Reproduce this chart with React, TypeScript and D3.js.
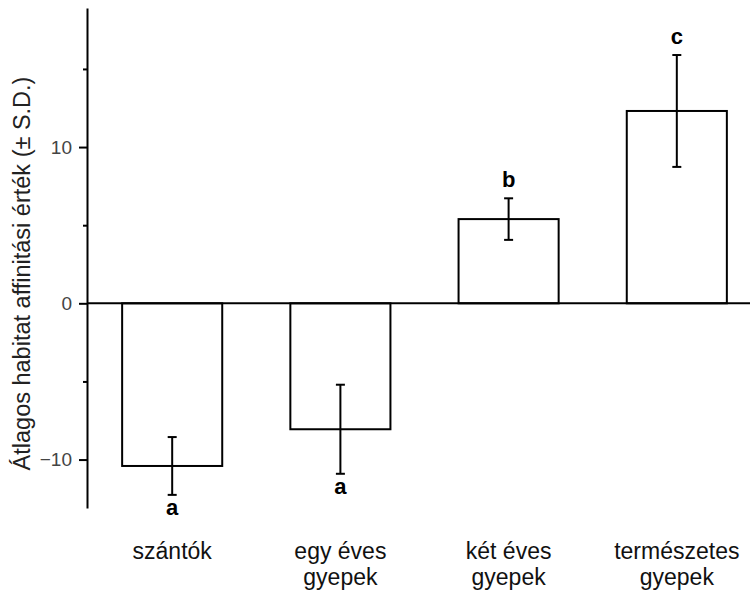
import React, { useRef, useEffect } from 'react';
import * as d3 from 'd3';

const CATEGORIES = ['szántók', 'egy éves gyepek', 'két éves gyepek', 'természetes gyepek'];
const CATEGORY_LINES = [['szántók'], ['egy éves', 'gyepek'], ['két éves', 'gyepek'], ['természetes', 'gyepek']];
const MEANS = [-10.41, -8.06, 5.39, 12.31];
const SDS = [1.85, 2.85, 1.33, 3.58];
const LETTERS = ['a', 'a', 'b', 'c'];
const MAJOR_TICKS = [-10, 0, 10];
const MINOR_TICKS = [-5, 5, 15];

const FONT = '"Liberation Sans", Arial, sans-serif';

export default function App() {
  const svgRef = useRef<SVGSVGElement | null>(null);

  useEffect(() => {
    if (!svgRef.current) return;
    const width = 754;
    const height = 591;

    d3.select(svgRef.current).selectAll('*').remove();
    const svg = d3.select(svgRef.current).attr('width', width).attr('height', height);

    const y = d3.scaleLinear().domain([-13.1, 18.9]).range([508, 8]);
    const x = d3
      .scaleBand()
      .domain(CATEGORIES)
      .range([88.5, 760.5])
      .paddingInner(0.405)
      .paddingOuter(0.2);

    const axisX = 87;

    const data = CATEGORIES.map((c, i) => ({ c, i, mean: MEANS[i], sd: SDS[i], letter: LETTERS[i] }));

    // Bars
    svg
      .append('g')
      .selectAll('rect')
      .data(data)
      .join('rect')
      .attr('x', (d) => x(d.c)!)
      .attr('y', (d) => y(Math.max(0, d.mean)))
      .attr('width', x.bandwidth())
      .attr('height', (d) => Math.abs(y(d.mean) - y(0)))
      .attr('fill', '#fff')
      .attr('stroke', '#000')
      .attr('stroke-width', 2);

    // Zero line
    svg
      .append('line')
      .attr('x1', axisX)
      .attr('x2', 750)
      .attr('y1', y(0))
      .attr('y2', y(0))
      .attr('stroke', '#000')
      .attr('stroke-width', 2);

    // Error bars
    const eb = svg.append('g').attr('stroke', '#000').attr('stroke-width', 2);
    data.forEach((d) => {
      const cx = x(d.c)! + x.bandwidth() / 2;
      const top = y(d.mean + d.sd);
      const bot = y(d.mean - d.sd);
      eb.append('line').attr('x1', cx).attr('x2', cx).attr('y1', top).attr('y2', bot);
      eb.append('line').attr('x1', cx - 4.5).attr('x2', cx + 4.5).attr('y1', top).attr('y2', top);
      eb.append('line').attr('x1', cx - 4.5).attr('x2', cx + 4.5).attr('y1', bot).attr('y2', bot);
    });

    // Significance letters
    svg
      .append('g')
      .selectAll('text')
      .data(data)
      .join('text')
      .attr('x', (d) => x(d.c)! + x.bandwidth() / 2)
      .attr('y', (d) => (d.mean < 0 ? y(d.mean - d.sd) + 20 : y(d.mean + d.sd) - 11))
      .attr('text-anchor', 'middle')
      .attr('font-family', FONT)
      .attr('font-size', 22)
      .attr('font-weight', 'bold')
      .attr('fill', '#000')
      .text((d) => d.letter);

    // Y axis
    const yAxis = svg
      .append('g')
      .attr('transform', `translate(${axisX},0)`)
      .call(d3.axisLeft(y).tickValues(MAJOR_TICKS).tickSize(8).tickSizeOuter(0).tickPadding(7).tickFormat(d3.format('d')));
    yAxis.select('.domain').attr('stroke', '#000').attr('stroke-width', 2);
    yAxis.selectAll('.tick line').attr('stroke', '#000').attr('stroke-width', 2);
    yAxis
      .selectAll('.tick text')
      .attr('font-family', FONT)
      .attr('font-size', 19)
      .attr('fill', '#444');

    svg
      .append('g')
      .attr('transform', `translate(${axisX},0)`)
      .call(d3.axisLeft(y).tickValues(MINOR_TICKS).tickSize(4).tickSizeOuter(0).tickFormat(() => ''))
      .call((g) => g.select('.domain').remove())
      .selectAll('.tick line')
      .attr('stroke', '#000')
      .attr('stroke-width', 2);

    // Y title
    svg
      .append('text')
      .attr('transform', 'translate(30,273.5) rotate(-90)')
      .attr('text-anchor', 'middle')
      .attr('font-family', FONT)
      .attr('font-size', 23.5)
      .attr('fill', '#222')
      .text('Átlagos habitat affinitási érték (± S.D.)');

    // Category labels
    const cat = svg
      .append('g')
      .selectAll('text')
      .data(data)
      .join('text')
      .attr('x', (d) => x(d.c)! + x.bandwidth() / 2)
      .attr('y', 559)
      .attr('text-anchor', 'middle')
      .attr('font-family', FONT)
      .attr('font-size', 23)
      .attr('fill', '#111');
    cat
      .selectAll('tspan')
      .data((d) => CATEGORY_LINES[d.i])
      .join('tspan')
      .attr('x', function () {
        return (this.parentNode as SVGTextElement).getAttribute('x');
      })
      .attr('dy', (_, i) => (i === 0 ? 0 : 26))
      .text((d) => d);
  }, []);

  return (
    <div style={{ position: 'fixed', left: 0, top: 0, background: '#fff' }}>
      <svg ref={svgRef} style={{ display: 'block' }} />
    </div>
  );
}
